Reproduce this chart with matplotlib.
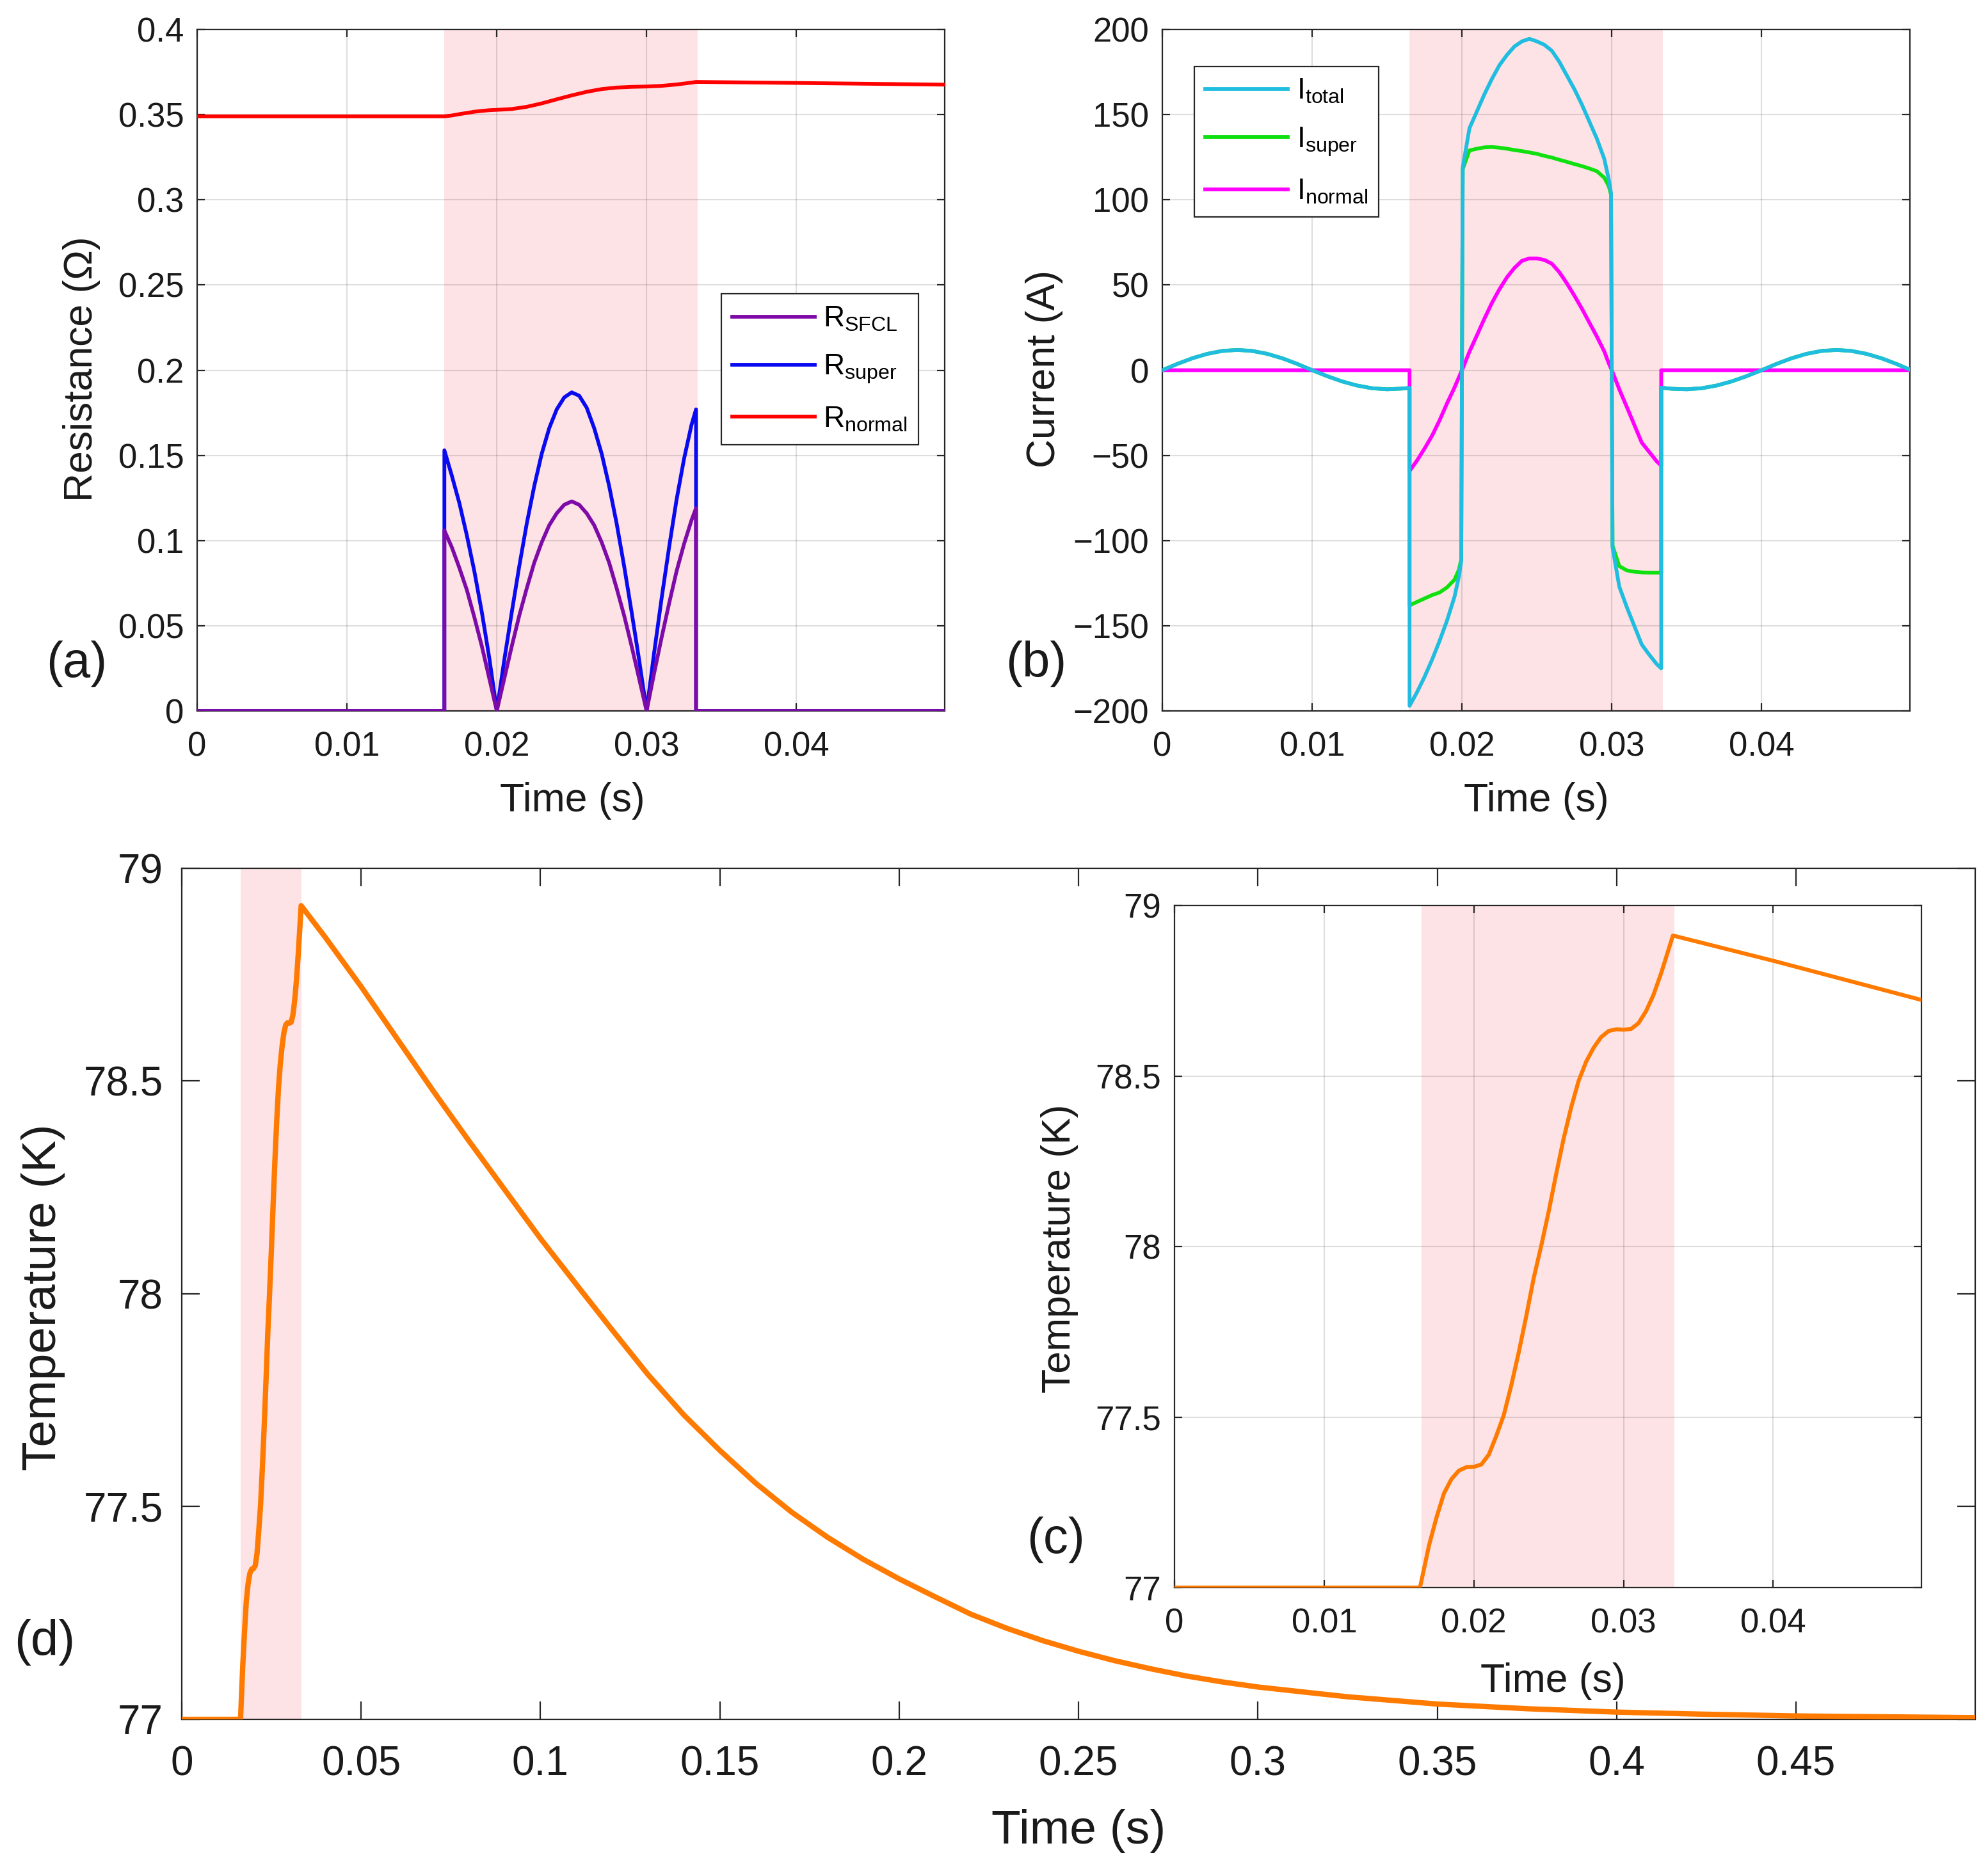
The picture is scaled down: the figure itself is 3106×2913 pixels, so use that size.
import matplotlib
matplotlib.use("Agg")
import matplotlib.pyplot as plt

plt.rcParams["font.family"] = ["Liberation Sans", "DejaVu Sans"]
plt.rcParams["mathtext.fontset"] = "custom"
plt.rcParams["mathtext.rm"] = "Liberation Sans"
plt.rcParams["axes.unicode_minus"] = True

# ---- data ----
fault_window = [0.0165, 0.0334]

# (a) resistances
r_time = [0, 0.0165, 0.0165, 0.017, 0.0175, 0.018, 0.0185, 0.019, 0.0195, 0.02,
          0.0205, 0.021, 0.0215, 0.022, 0.0225, 0.023, 0.0235, 0.024, 0.0245, 0.025,
          0.0255, 0.026, 0.0265, 0.027, 0.0275, 0.028, 0.0285, 0.029, 0.0295, 0.03,
          0.0305, 0.031, 0.0315, 0.032, 0.0325, 0.033, 0.0333, 0.0333, 0.0499]
r_super = [0, 0, 0.153, 0.138, 0.122, 0.103, 0.082, 0.058, 0.031, 0.0,
           0.030, 0.058, 0.085, 0.110, 0.132, 0.151, 0.166, 0.177, 0.184, 0.187,
           0.185, 0.178, 0.166, 0.151, 0.132, 0.110, 0.085, 0.058, 0.030, 0.0,
           0.034, 0.066, 0.096, 0.124, 0.148, 0.168, 0.177, 0, 0]
r_sfcl = [0, 0, 0.106, 0.096, 0.084, 0.071, 0.055, 0.038, 0.019, 0.0,
          0.019, 0.038, 0.056, 0.072, 0.087, 0.099, 0.109, 0.116, 0.121, 0.123,
          0.121, 0.116, 0.109, 0.099, 0.087, 0.072, 0.056, 0.038, 0.019, 0.0,
          0.022, 0.043, 0.063, 0.082, 0.098, 0.112, 0.119, 0, 0]
rn_time = [0, 0.0165, 0.017, 0.0175, 0.018, 0.0185, 0.019, 0.0195, 0.02, 0.021,
           0.022, 0.023, 0.024, 0.025, 0.026, 0.027, 0.028, 0.029, 0.03, 0.031,
           0.032, 0.033, 0.0333, 0.04, 0.0499]
r_normal = [0.349, 0.349, 0.3495, 0.3503, 0.351, 0.3517, 0.3522, 0.3526, 0.3528, 0.3533,
            0.3546, 0.3566, 0.359, 0.3613, 0.3634, 0.365, 0.3659, 0.3663, 0.3665, 0.3669,
            0.3677, 0.3688, 0.3692, 0.3686, 0.3676]

# (b) currents
i_time = [0, 0.001, 0.002, 0.003, 0.004, 0.005, 0.006, 0.007, 0.008, 0.009,
          0.010, 0.011, 0.012, 0.013, 0.014, 0.015, 0.016, 0.0165,
          0.0165, 0.017, 0.0175, 0.018, 0.0185, 0.019, 0.0195, 0.0198, 0.01995,
          0.02005, 0.0205, 0.021, 0.0215, 0.022, 0.0225, 0.023, 0.0235, 0.024, 0.0245,
          0.025, 0.0255, 0.026, 0.0265, 0.027, 0.0275, 0.028, 0.0285, 0.029, 0.0295,
          0.0298, 0.02995, 0.03005, 0.0305, 0.031, 0.0315, 0.032, 0.0325, 0.033, 0.0333,
          0.0333, 0.034, 0.035, 0.036, 0.037, 0.038, 0.039, 0.040, 0.041, 0.042,
          0.043, 0.044, 0.045, 0.046, 0.047, 0.048, 0.049, 0.0499]
i_total = [0, 3.7, 7.0, 9.6, 11.3, 11.9, 11.3, 9.6, 7.0, 3.7,
           0.0, -3.5, -6.6, -9.0, -10.6, -11.2, -10.8, -10.4,
           -197, -189, -180, -170, -159, -147, -133, -121, -112,
           119, 142, 152, 162, 171, 179, 185, 190, 193, 194.5,
           193, 191, 187.5, 181, 173, 165, 156, 146, 136, 124,
           112, 104, -104, -127, -139, -150, -161, -167, -172.5, -175,
           -10.3, -10.9, -11.2, -10.6, -9.0, -6.6, -3.5, 0.0, 3.7, 7.0,
           9.6, 11.3, 11.9, 11.3, 9.6, 7.0, 3.7, 0.3]
i_super = [0, 3.7, 7.0, 9.6, 11.3, 11.9, 11.3, 9.6, 7.0, 3.7,
           0.0, -3.5, -6.6, -9.0, -10.6, -11.2, -10.8, -10.4,
           -138, -136, -134, -132, -130.5, -127.5, -123, -117, -111,
           118, 129, 130, 130.8, 131, 130.6, 130, 129.2, 128.6, 127.8,
           127, 125.8, 124.8, 123.5, 122.3, 121, 119.8, 118.4, 116.8, 113,
           108, 103, -103, -115, -117.5, -118.3, -118.7, -118.8, -118.8, -118.8,
           -10.3, -10.9, -11.2, -10.6, -9.0, -6.6, -3.5, 0.0, 3.7, 7.0,
           9.6, 11.3, 11.9, 11.3, 9.6, 7.0, 3.7, 0.3]
i_normal = [0, 0, 0, 0, 0, 0, 0, 0, 0, 0,
            0, 0, 0, 0, 0, 0, 0, 0,
            -59.2, -53, -46, -38.5, -29.5, -19.5, -10.2, -4, -1,
            1, 10.9, 20.5, 30.3, 39.5, 47.5, 54.5, 60, 64.2, 65.6,
            65.6, 64.7, 62.5, 57.5, 51, 43.8, 36.2, 28, 19.8, 11,
            4, 1, -1, -11.2, -21.5, -32, -42.5, -48, -53.5, -56,
            0, 0, 0, 0, 0, 0, 0, 0, 0, 0,
            0, 0, 0, 0, 0, 0, 0, 0]

# (c)/(d) temperature
t_temp = [0, 0.0164, 0.017, 0.0175, 0.018, 0.0185, 0.019, 0.0195, 0.02, 0.0205,
          0.021, 0.0215, 0.022, 0.0225, 0.023, 0.0235, 0.024, 0.0245, 0.025, 0.0255,
          0.026, 0.0265, 0.027, 0.0275, 0.028, 0.0285, 0.029, 0.0295, 0.03, 0.0305,
          0.031, 0.0315, 0.032, 0.0325, 0.033, 0.0333,
          0.04, 0.05, 0.06, 0.07, 0.08, 0.09, 0.10, 0.11, 0.12, 0.13,
          0.14, 0.15, 0.16, 0.17, 0.18, 0.19, 0.20, 0.21, 0.22, 0.23,
          0.24, 0.25, 0.26, 0.27, 0.28, 0.29, 0.30,
          0.325, 0.35, 0.375, 0.4, 0.425, 0.45, 0.475, 0.4999]
temp_k = [77.0, 77.0, 77.123, 77.205, 77.276, 77.318, 77.343, 77.353, 77.354, 77.361,
          77.39, 77.445, 77.506, 77.593, 77.69, 77.796, 77.908, 78.002, 78.103, 78.213,
          78.317, 78.408, 78.486, 78.542, 78.583, 78.614, 78.632, 78.637, 78.636, 78.638,
          78.655, 78.69, 78.738, 78.80, 78.87, 78.912,
          78.838, 78.722, 78.60, 78.478, 78.36, 78.245, 78.13, 78.022, 77.915, 77.81,
          77.715, 77.632, 77.555, 77.487, 77.428, 77.376, 77.33, 77.288, 77.247, 77.214,
          77.185, 77.16, 77.138, 77.119, 77.102, 77.088, 77.076,
          77.053, 77.036, 77.025, 77.017, 77.012, 77.008, 77.006, 77.004]

# ticks
short_ticks = [0, 0.01, 0.02, 0.03, 0.04]
short_labels = ["0", "0.01", "0.02", "0.03", "0.04"]
res_ticks = [0, 0.05, 0.1, 0.15, 0.2, 0.25, 0.3, 0.35, 0.4]
res_labels = ["0", "0.05", "0.1", "0.15", "0.2", "0.25", "0.3", "0.35", "0.4"]
cur_ticks = [-200, -150, -100, -50, 0, 50, 100, 150, 200]
cur_labels = ["\u2212200", "\u2212150", "\u2212100", "\u221250", "0", "50", "100", "150", "200"]
long_ticks = [0, 0.05, 0.1, 0.15, 0.2, 0.25, 0.3, 0.35, 0.4, 0.45]
long_labels = ["0", "0.05", "0.1", "0.15", "0.2", "0.25", "0.3", "0.35", "0.4", "0.45"]
temp_ticks = [77, 77.5, 78, 78.5, 79]
temp_labels = ["77", "77.5", "78", "78.5", "79"]

# ---- style ----
DARK = "#262626"
SHADE = "#fde3e5"
C_SFCL = "#7e0ba8"
C_RSUP = "#0a0af0"
C_RNOR = "#ff0000"
C_ITOT = "#20bde0"
C_ISUP = "#10e010"
C_INOR = "#ff00ff"
C_TEMP = "#ff7a00"
LW = 4.2


def style_axes(ax, tick_fs, tick_len, xpad, ypad, grid=True):
    for sp in ax.spines.values():
        sp.set_color(DARK)
        sp.set_linewidth(1.6)
    ax.tick_params(direction="in", top=True, right=True, length=tick_len,
                   width=1.6, color=DARK, labelsize=tick_fs, labelcolor="#1a1a1a")
    ax.tick_params(axis="x", pad=xpad)
    ax.tick_params(axis="y", pad=ypad)
    if grid:
        ax.grid(True, color=DARK, alpha=0.15, linewidth=1.5)


def set_labels(ax, xlabel, ylabel, fs, xy_x, xy_y):
    ax.set_xlabel(xlabel, fontsize=fs, color="#1a1a1a")
    ax.set_ylabel(ylabel, fontsize=fs, color="#1a1a1a")
    ax.xaxis.set_label_coords(*xy_x)
    ax.yaxis.set_label_coords(*xy_y)
    ax.xaxis.label.set_va("center")
    ax.yaxis.label.set_va("center")


def add_legend(ax, handles, labels, anchor):
    leg = ax.legend(handles, labels, loc="upper left", bbox_to_anchor=anchor,
                    borderaxespad=0, fontsize=33, handlelength=2.8,
                    handletextpad=0.3, labelspacing=0.68, borderpad=0.38,
                    fancybox=False, framealpha=1, edgecolor=DARK)
    leg.get_frame().set_linewidth(1.6)
    return leg


fig = plt.figure(figsize=(31.06, 29.13), dpi=100)

# (a) resistance
ax_a = fig.add_axes([0.0992, 0.6186, 0.3760, 0.3656])
ax_a.axvspan(fault_window[0], fault_window[1], color=SHADE, lw=0, zorder=1)
ln_rsup, = ax_a.plot(r_time, r_super, color=C_RSUP, lw=LW, zorder=3)
ln_rnor, = ax_a.plot(rn_time, r_normal, color=C_RNOR, lw=LW, zorder=3)
ln_rsfcl, = ax_a.plot(r_time, r_sfcl, color=C_SFCL, lw=LW, zorder=4)
ax_a.set_xlim(0, 0.0499)
ax_a.set_ylim(0, 0.4)
ax_a.set_xticks(short_ticks, short_labels)
ax_a.set_yticks(res_ticks, res_labels)
style_axes(ax_a, 38, 8.4, 23, 15)
set_labels(ax_a, "Time (s)", "Resistance (\u03a9)", 45, (0.502, -0.132), (-0.155, 0.502))
add_legend(ax_a, [ln_rsfcl, ln_rsup, ln_rnor],
           [r"R$_{\mathrm{SFCL}}$", r"R$_{\mathrm{super}}$", r"R$_{\mathrm{normal}}$"],
           (0.701, 0.612))

# (b) currents
ax_b = fig.add_axes([0.5847, 0.6186, 0.3760, 0.3656])
ax_b.axvspan(fault_window[0], fault_window[1], color=SHADE, lw=0, zorder=1)
ln_sup, = ax_b.plot(i_time, i_super, color=C_ISUP, lw=LW, zorder=3)
ln_nor, = ax_b.plot(i_time, i_normal, color=C_INOR, lw=LW, zorder=3)
ln_tot, = ax_b.plot(i_time, i_total, color=C_ITOT, lw=LW, zorder=4)
ax_b.set_xlim(0, 0.0499)
ax_b.set_ylim(-200, 200)
ax_b.set_xticks(short_ticks, short_labels)
ax_b.set_yticks(cur_ticks, cur_labels)
style_axes(ax_b, 38, 8.4, 23, 15)
set_labels(ax_b, "Time (s)", "Current (A)", 45, (0.5, -0.132), (-0.158, 0.502))
add_legend(ax_b, [ln_tot, ln_sup, ln_nor],
           [r"I$_{\mathrm{total}}$", r"I$_{\mathrm{super}}$", r"I$_{\mathrm{normal}}$"],
           (0.0428, 0.946))

# (d) temperature, long window
ax_d = fig.add_axes([0.0914, 0.0776, 0.9021, 0.4566])
ax_d.axvspan(fault_window[0], fault_window[1], color=SHADE, lw=0, zorder=1)
ax_d.plot(t_temp, temp_k, color=C_TEMP, lw=6.0, zorder=3)
ax_d.set_xlim(0, 0.4999)
ax_d.set_ylim(77, 79)
ax_d.set_xticks(long_ticks, long_labels)
ax_d.set_yticks(temp_ticks, temp_labels)
style_axes(ax_d, 46, 20, 29, 21, grid=False)
set_labels(ax_d, "Time (s)", "Temperature (K)", 54, (0.5, -0.1316), (-0.0774, 0.496))

# (c) inset, fault window zoom
ax_c = fig.add_axes([0.5908, 0.1483, 0.3757, 0.3659], zorder=5)
ax_c.set_facecolor("white")
ax_c.axvspan(fault_window[0], fault_window[1], color=SHADE, lw=0, zorder=1)
ax_c.plot(t_temp, temp_k, color=C_TEMP, lw=4.5, zorder=3)
ax_c.set_xlim(0, 0.0499)
ax_c.set_ylim(77, 79)
ax_c.set_xticks(short_ticks, short_labels)
ax_c.set_yticks(temp_ticks, temp_labels)
style_axes(ax_c, 38, 8.4, 23, 15)
set_labels(ax_c, "Time (s)", "Temperature (K)", 45, (0.507, -0.137), (-0.154, 0.497))

# panel letters
for txt, x, y in [("(a)", 0.0385, 0.6440), ("(b)", 0.5212, 0.6440),
                  ("(c)", 0.5312, 0.1740), ("(d)", 0.0225, 0.1190)]:
    fig.text(x, y, txt, fontsize=56, ha="center", va="center", color="#1a1a1a")

fig.savefig("out.png", dpi=100)
